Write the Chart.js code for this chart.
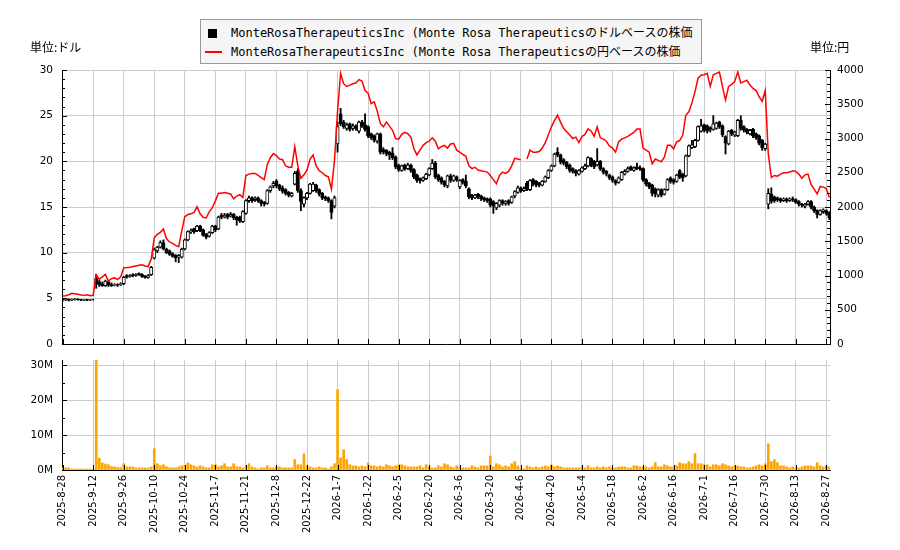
<!DOCTYPE html>
<html>
<head>
<meta charset="utf-8">
<script src="https://cdn.jsdelivr.net/npm/chart.js@4.4.0/dist/chart.umd.min.js"></script>
<style>
    body { margin: 0; background: #fff; }
    #wrap { position: relative; width: 900px; height: 550px; overflow: hidden; }
    #priceChart { position: absolute; left: 0; top: 0; }
    #volumeChart { position: absolute; left: 0; top: 350px; }
    .unit { position: absolute; top: 40px; font: 12px "Noto Sans CJK JP", sans-serif; line-height: 14px; color: #000; }
    #legend { position: absolute; left: 200px; top: 19px; width: 502px; height: 45px; box-sizing: border-box;
              border: 1px solid #999; background: #f5f5f5; }
    .legend-text { position: absolute; left: 231px; font: 12px "DejaVu Sans Mono", "Noto Sans CJK JP", monospace;
                   line-height: 14px; color: #000; white-space: nowrap; }
</style>
</head>
<body>
<div id="wrap">
    <canvas id="priceChart" width="900" height="350" style="width:900px;height:350px"></canvas>
    <canvas id="volumeChart" width="900" height="200" style="width:900px;height:200px"></canvas>
    <div class="unit" style="left:30px">単位:ドル</div>
    <div class="unit" style="left:810px">単位:円</div>
    <div id="legend"></div>
    <div style="position:absolute;left:208px;top:29px;width:9px;height:9px;background:#000"></div>
    <div class="legend-text" style="top:26px">MonteRosaTherapeuticsInc (Monte Rosa Therapeuticsのドルベースの株価</div>
    <div style="position:absolute;left:205px;top:51px;width:17px;height:2px;background:#f00"></div>
    <div class="legend-text" style="top:45px">MonteRosaTherapeuticsInc (Monte Rosa Therapeuticsの円ベースの株価</div>
</div>
<script>
// trading-day tick labels, one every 10 sessions
const tickLabels = ['2025-8-28', '2025-9-12', '2025-9-26', '2025-10-10', '2025-10-24', '2025-11-7', '2025-11-21',
    '2025-12-8', '2025-12-22', '2026-1-7', '2026-1-22', '2026-2-5', '2026-2-20', '2026-3-6', '2026-3-20',
    '2026-4-6', '2026-4-20', '2026-5-4', '2026-5-18', '2026-6-2', '2026-6-16', '2026-7-1', '2026-7-16',
    '2026-7-30', '2026-8-13', '2026-8-27'];

// daily prices in dollars
const opens = [
    4.9,4.85,4.9,4.8,4.85,4.9,4.85,4.8,4.85,4.8,
    4.85,7.2,6.8,6.6,6.4,6.8,6.5,6.45,6.5,6.5,
    6.6,7.5,7.4,7.6,7.5,7.7,7.6,7.45,7.3,7.6,
    9.4,10.2,10.6,11.1,10.4,10.2,9.9,9.7,9.5,9.5,
    10.4,11.4,12.3,12.6,12.4,12.9,12.5,12.0,11.8,12.2,
    12.9,12.6,14.1,13.9,14.2,14.0,14.2,13.9,13.9,13.4,
    14.3,15.7,16.0,15.8,16.0,15.7,15.5,15.4,16.8,17.3,
    17.8,17.4,17.1,16.9,16.6,16.2,17.5,18.9,16.8,15.3,
    16.0,16.5,16.8,17.4,16.9,16.5,16.1,16.0,15.7,15.1,
    21.9,25.2,24.3,23.6,24.1,23.6,23.9,23.3,24.3,24.0,
    23.8,23.0,22.8,22.2,23.0,21.3,21.2,21.0,20.9,20.5,
    19.6,19.0,19.6,19.2,19.6,19.1,18.5,18.1,17.9,18.1,
    18.5,19.2,19.8,18.5,18.2,17.8,17.3,18.4,17.9,18.3,
    17.2,18.0,17.8,17.0,16.3,16.0,16.4,16.2,16.0,15.9,
    15.9,15.6,14.9,15.2,15.7,15.4,15.7,15.5,16.2,16.6,
    17.1,16.8,17.6,16.9,18.0,17.8,17.6,17.4,17.8,18.2,
    19.0,19.5,21.0,20.7,20.2,19.9,19.6,19.2,19.0,18.6,
    18.9,19.2,19.5,20.3,20.0,19.6,20.0,19.2,18.9,18.5,
    18.3,17.9,17.7,18.0,18.6,18.9,19.4,19.0,19.4,19.3,
    19.2,18.0,17.6,17.4,17.0,16.3,16.9,16.4,16.9,18.2,
    18.0,17.8,19.0,18.6,18.4,20.6,21.5,21.6,22.3,23.3,
    24.0,23.9,23.7,23.5,23.6,24.3,23.9,22.7,21.9,23.4,
    22.9,22.8,24.5,23.8,23.5,23.0,23.5,23.0,22.8,22.3,
    21.4,15.3,16.4,16.1,16.0,15.9,15.7,15.9,15.7,15.9,
    15.8,15.6,15.3,15.1,15.3,15.6,15.0,14.6,14.2,14.5,
    14.6,14.4
];
const highs = [
    5.0,5.0,4.95,4.95,5.0,4.95,4.9,4.9,4.9,4.9,
    4.9,7.6,7.0,6.8,7.0,6.9,6.7,6.6,6.6,6.7,
    7.4,7.6,7.6,7.7,7.7,7.8,7.7,7.5,7.6,8.5,
    10.5,10.7,11.3,11.4,10.5,10.3,10.0,9.8,9.8,10.5,
    11.5,12.4,12.6,12.7,13.0,13.0,12.6,12.1,12.3,13.0,
    13.0,14.0,14.3,14.3,14.3,14.4,14.3,14.0,14.0,14.6,
    15.8,16.2,16.1,16.1,16.1,15.8,15.6,16.9,17.3,17.8,
    18.0,17.5,17.3,17.0,16.7,16.6,18.9,19.2,17.0,16.1,
    16.6,17.6,17.7,17.5,17.0,16.6,16.2,16.1,15.8,16.2,
    24.3,25.8,24.5,24.2,24.2,24.1,24.0,24.4,24.5,25.2,
    23.9,23.1,22.9,23.1,23.1,21.5,21.3,21.1,21.5,20.6,
    19.7,19.6,19.7,19.8,19.7,19.2,18.6,18.2,18.3,18.7,
    19.3,20.2,20.0,18.6,18.3,17.9,18.5,18.6,18.5,18.4,
    18.0,18.1,18.5,17.1,16.4,16.4,16.5,16.3,16.1,16.0,
    16.0,15.7,15.5,15.8,15.8,15.7,15.8,16.2,16.8,17.3,
    17.2,17.2,17.8,18.0,18.1,17.9,17.7,17.9,18.4,19.1,
    19.6,20.9,21.5,20.8,20.3,20.0,19.7,19.3,19.1,19.1,
    19.4,19.7,20.5,20.4,20.1,21.4,20.1,19.3,19.0,18.6,
    18.4,18.0,18.3,18.9,19.1,19.4,19.5,19.4,19.8,19.5,
    19.3,18.1,17.7,17.5,17.1,17.0,17.0,17.0,18.1,18.3,
    18.1,18.6,19.1,18.7,20.7,21.8,22.3,22.4,23.9,24.6,
    24.1,24.0,23.8,25.0,24.3,24.4,24.0,22.8,23.4,23.5,
    23.3,24.6,25.0,23.9,23.6,23.5,23.6,23.1,22.9,22.4,
    22.0,17.0,17.1,16.2,16.1,16.0,16.0,16.0,16.0,16.1,
    15.9,15.7,15.4,15.4,15.7,15.7,15.1,14.7,14.7,14.8,
    14.7,14.5
];
const lows = [
    4.7,4.75,4.7,4.75,4.8,4.8,4.75,4.75,4.75,4.75,
    4.8,6.1,6.3,6.3,6.3,6.3,6.3,6.35,6.3,6.4,
    6.5,7.2,7.3,7.35,7.4,7.5,7.3,7.2,7.2,7.5,
    9.3,10.0,10.5,10.3,9.9,9.7,9.5,9.0,8.9,9.4,
    10.3,11.3,12.1,12.1,12.3,12.3,11.8,11.5,11.7,12.1,
    12.3,12.5,13.7,13.8,13.7,13.9,13.6,13.0,13.3,13.3,
    14.2,15.5,15.5,15.6,15.5,15.1,15.1,15.3,16.6,17.1,
    17.1,16.8,16.5,16.3,16.1,16.1,17.4,16.6,14.6,15.0,
    15.8,16.4,16.7,16.6,16.2,15.8,15.7,15.5,13.7,14.9,
    21.0,23.9,23.6,23.4,23.3,23.4,23.4,23.1,23.7,23.3,
    22.6,22.4,22.1,22.0,20.8,20.8,20.6,20.2,20.2,19.2,
    18.9,18.9,19.0,19.1,18.8,18.1,17.7,17.6,17.8,18.0,
    18.4,19.1,18.1,17.8,17.5,17.2,17.1,17.7,17.8,17.8,
    17.0,17.5,17.1,15.9,15.8,15.9,15.9,15.7,15.6,15.5,
    15.0,14.3,14.7,15.0,15.2,15.2,15.2,15.4,16.0,16.5,
    16.6,16.7,16.8,16.8,17.3,17.2,17.2,17.3,17.7,18.1,
    18.9,19.4,20.5,19.7,19.6,19.2,18.8,18.7,18.4,18.5,
    18.8,19.1,19.4,19.4,19.2,19.5,19.0,18.6,18.4,18.0,
    17.7,17.4,17.6,17.9,18.5,18.8,19.0,18.9,19.1,19.0,
    17.8,17.3,17.0,16.2,16.1,16.1,16.1,16.3,16.8,17.6,
    17.5,17.7,18.1,17.8,18.3,20.5,21.4,21.5,22.2,23.2,
    23.2,23.1,23.2,23.4,23.5,23.6,22.7,20.8,21.8,22.8,
    22.7,22.7,23.4,23.2,23.0,22.9,22.6,22.4,21.8,21.2,
    21.2,14.8,15.4,15.5,15.6,15.5,15.6,15.5,15.6,15.6,
    15.4,15.1,15.0,14.9,15.2,14.8,14.4,13.8,14.1,14.3,
    14.1,13.6
];
const closes = [
    4.85,4.9,4.8,4.85,4.9,4.85,4.8,4.85,4.8,4.85,
    4.85,6.6,6.5,6.4,6.9,6.5,6.4,6.5,6.45,6.6,
    7.3,7.35,7.5,7.45,7.6,7.6,7.4,7.3,7.5,8.4,
    10.3,10.6,11.1,10.4,10.0,9.8,9.6,9.45,9.7,10.4,
    11.4,12.3,12.4,12.3,12.9,12.4,11.9,11.7,12.2,12.9,
    12.5,13.9,13.9,14.1,13.9,14.2,13.8,13.6,13.5,14.5,
    15.7,16.0,15.7,16.0,15.7,15.4,15.3,16.8,17.2,17.6,
    17.3,17.0,16.7,16.5,16.3,16.5,18.7,16.8,15.6,16.0,
    16.5,17.5,17.5,16.8,16.4,16.0,15.9,15.7,14.4,16.0,
    23.8,24.1,23.8,24.0,23.5,23.9,23.6,24.3,23.9,23.5,
    22.8,22.6,22.3,23.0,21.0,21.0,20.8,20.7,20.4,19.4,
    19.1,19.5,19.2,19.6,19.0,18.3,17.9,17.9,18.2,18.6,
    19.2,19.8,18.3,18.0,17.7,17.4,18.4,17.9,18.4,18.0,
    17.9,17.7,17.3,16.1,16.0,16.3,16.1,15.9,15.8,15.7,
    15.2,15.1,15.4,15.7,15.4,15.6,15.4,16.1,16.7,17.1,
    16.8,17.0,17.0,17.9,17.5,17.4,17.4,17.8,18.3,19.0,
    19.5,20.8,20.7,19.9,19.8,19.4,19.0,18.9,18.7,19.0,
    19.3,19.5,20.4,19.6,19.4,20.0,19.2,18.8,18.6,18.2,
    17.9,17.6,18.2,18.8,18.9,19.2,19.1,19.3,19.2,19.2,
    18.0,17.5,17.2,16.5,16.4,16.9,16.3,16.9,18.0,17.8,
    17.7,18.5,18.3,18.2,20.6,21.7,21.8,22.3,23.8,23.9,
    23.4,23.3,23.5,24.1,24.2,23.8,22.9,22.0,23.3,23.0,
    23.2,24.5,23.6,23.4,23.2,23.4,22.8,22.6,22.0,21.5,
    21.9,16.5,15.6,15.7,15.8,15.7,15.9,15.7,15.9,15.8,
    15.5,15.3,15.2,15.3,15.6,15.0,14.6,14.2,14.6,14.7,
    14.3,13.8
];

// yen-based price (one missing session)
const yenPrices = [
    700,705,720,740,735,725,715,710,720,705,
    710,1010,945,980,1015,920,955,965,940,980,
    1110,1115,1120,1130,1140,1150,1155,1140,1130,1240,
    1550,1600,1630,1680,1540,1490,1470,1440,1420,1650,
    1860,1890,1900,1920,2005,1900,1850,1840,1930,1990,
    2090,2200,2200,2210,2200,2190,2120,2160,2180,2140,
    2460,2480,2490,2490,2460,2430,2400,2620,2720,2780,
    2750,2700,2690,2600,2580,2580,2880,2600,2420,2470,
    2540,2700,2760,2600,2530,2500,2460,2440,2260,2680,
    3400,3950,3800,3760,3780,3800,3810,3860,3840,3700,
    3660,3510,3535,3400,3220,3170,3240,3180,3120,3000,
    2990,3060,3090,3070,3020,2850,2760,2830,2900,2940,
    2960,3010,2960,2850,2880,2900,2860,2920,2930,2830,
    2800,2770,2740,2600,2560,2580,2540,2530,2520,2510,
    2460,2400,2340,2460,2510,2490,2520,2600,2710,2700,
    2690,null,2700,2830,2800,2800,2810,2860,2940,3050,
    3170,3260,3340,3240,3150,3100,3050,3000,3020,2940,
    3030,3060,3140,3110,3030,3170,3010,2990,2960,2890,
    2860,2800,2950,2990,3010,3030,3060,3090,3140,3140,
    2860,2830,2800,2630,2700,2680,2660,2730,2900,2900,
    2850,2950,2970,3050,3340,3390,3520,3680,3880,3925,
    3930,3950,3760,3930,3950,3970,3760,3560,3760,3790,
    3830,3970,3810,3830,3850,3780,3730,3700,3610,3540,
    3700,2775,2430,2460,2450,2480,2500,2500,2510,2530,
    2520,2480,2420,2470,2480,2330,2260,2190,2300,2290,
    2270,2140
];

// volume, millions of shares
const volumes = [
    0.6,0.6,0.6,0.3,0.3,0.3,0.3,0.3,0.3,0.3,
    0.3,35,3.4,2.0,1.7,1.5,1.0,0.9,0.7,0.7,
    1.8,0.9,0.9,0.9,0.6,0.6,0.6,0.6,0.6,0.9,
    6.1,1.8,1.2,1.5,0.9,0.6,0.6,0.6,0.9,1.2,
    1.2,2.0,1.5,1.2,0.9,1.2,0.9,0.6,0.6,1.5,
    1.5,0.9,1.2,1.8,0.9,0.9,1.8,0.9,0.9,0.6,
    0.9,1.8,0.9,0.6,0.3,0.6,0.6,1.2,0.6,0.6,
    0.9,0.9,0.6,0.6,0.6,0.6,3.0,1.5,1.5,4.6,
    1.2,0.9,0.6,0.6,0.9,0.6,0.6,0.3,0.9,1.8,
    23,3.5,5.8,3.0,1.5,1.2,1.2,0.9,1.2,0.9,
    2.0,1.2,1.2,0.9,1.2,0.9,1.5,1.2,0.9,1.2,
    1.5,1.5,1.2,0.9,0.9,0.9,0.9,1.2,0.6,1.5,
    0.9,0.6,0.6,1.2,0.9,1.8,1.5,0.9,0.6,1.2,
    0.9,0.6,0.6,0.6,1.2,0.9,0.6,1.2,1.2,1.2,
    4.0,0.9,1.8,1.5,0.9,1.2,0.9,1.8,2.4,1.2,
    0.6,0.3,1.2,0.9,0.6,0.9,0.6,0.9,1.2,0.9,
    1.5,0.9,1.2,0.9,0.6,0.6,0.6,0.6,0.6,0.6,
    0.9,0.6,1.2,0.6,0.6,0.9,0.6,0.9,0.6,0.9,
    0.6,0.6,0.9,0.9,0.9,0.6,0.6,1.2,1.2,0.9,
    0.9,0.9,0.6,0.9,2.1,0.9,0.9,1.5,1.2,0.9,
    0.9,1.2,2.1,1.8,1.8,2.4,1.8,4.7,1.8,1.8,
    1.5,1.5,0.9,1.5,1.5,1.2,1.8,1.5,1.2,0.9,
    1.2,1.2,0.9,0.9,0.6,0.6,0.9,1.2,1.5,1.2,
    1.8,7.5,2.4,3.0,2.1,1.2,1.2,0.9,0.6,0.9,
    0.6,0.6,0.9,1.2,1.2,1.2,0.9,2.1,1.2,0.9,
    1.2,0.9
];

const GRID = '#cccccc';
const X_MIN = -0.2, X_MAX = 251.2;
const xTickValues = tickLabels.map((_, k) => k * 10);

Chart.defaults.font.family = '"DejaVu Sans", sans-serif';
Chart.defaults.font.size = 10;
Chart.defaults.color = '#000';

// matplotlib style ticks pointing into the plot
function drawInnerTicks(chart, marks) {
    const ctx = chart.ctx;
    const a = chart.chartArea;
    ctx.save();
    ctx.strokeStyle = '#000';
    ctx.lineWidth = 1;
    ctx.beginPath();
    marks.forEach(m => {
        const s = chart.scales[m.axis];
        for (let k = 0; m.from + k * m.step <= m.to + 1e-9; k++) {
            const len = (k % m.every === 0) ? 5 : 3;
            const p = Math.round(s.getPixelForValue(m.from + k * m.step)) + 0.5;
            if (m.side === 'left') { ctx.moveTo(a.left, p); ctx.lineTo(a.left + len, p); }
            else if (m.side === 'right') { ctx.moveTo(a.right, p); ctx.lineTo(a.right - len, p); }
            else { ctx.moveTo(p, a.bottom); ctx.lineTo(p, a.bottom - len); }
        }
    });
    ctx.stroke();
    ctx.restore();
}

// fixed axis size, and no label overflow padding pushed into the layout
function fixWidth(w) {
    return s => { s.width = w; s.paddingTop = 0; s.paddingBottom = 0; };
}

function xScale(showLabels, height) {
    return {
        type: 'linear',
        min: X_MIN,
        max: X_MAX,
        offset: false,
        afterBuildTicks: s => { s.ticks = xTickValues.map(v => ({value: v})); },
        afterFit: s => { s.height = height; },
        grid: {color: GRID, drawTicks: false, offset: false},
        border: {color: '#000'},
        ticks: {
            display: showLabels,
            autoSkip: false,
            minRotation: 90,
            maxRotation: 90,
            padding: 5,
            font: {size: 10},
            callback: v => tickLabels[Math.round(v / 10)]
        }
    };
}

const bodyColors = closes.map((c, i) => c >= opens[i] ? '#ffffff' : '#000000');

new Chart(document.getElementById('priceChart'), {
    type: 'bar',
    data: {
        datasets: [
            {
                type: 'line',
                label: 'yen',
                yAxisID: 'yYen',
                data: yenPrices.map((v, i) => ({x: i, y: v})),
                borderColor: '#ff0000',
                borderWidth: 1.5,
                pointRadius: 0,
                spanGaps: false,
                order: 0
            },
            {
                label: 'body',
                yAxisID: 'y',
                data: opens.map((o, i) => ({x: i, y: [o, closes[i]]})),
                backgroundColor: bodyColors,
                borderColor: '#000',
                borderWidth: 1,
                borderSkipped: false,
                barThickness: 3.3,
                grouped: false,
                order: 1
            },
            {
                label: 'wick',
                yAxisID: 'y',
                data: lows.map((l, i) => ({x: i, y: [l, highs[i]]})),
                backgroundColor: '#000',
                barThickness: 1.2,
                grouped: false,
                order: 2
            }
        ]
    },
    options: {
        responsive: false,
        animation: false,
        layout: {padding: {top: 70, left: 0, right: 0, bottom: 0}},
        plugins: {legend: {display: false}, tooltip: {enabled: false}},
        scales: {
            x: xScale(false, 6),
            y: {
                position: 'left',
                min: 0,
                max: 30,
                afterFit: fixWidth(62),
                grid: {color: GRID, drawTicks: false},
                border: {color: '#000'},
                ticks: {stepSize: 5, padding: 9, font: {size: 10.5}}
            },
            yYen: {
                position: 'right',
                min: 0,
                max: 4000,
                afterFit: fixWidth(70),
                grid: {drawOnChartArea: false, drawTicks: false},
                border: {color: '#000'},
                ticks: {stepSize: 500, padding: 7, font: {size: 10.5}, callback: v => String(v)}
            }
        }
    },
    plugins: [{
        id: 'priceTicks',
        afterDraw: chart => drawInnerTicks(chart, [
            {axis: 'y', side: 'left', from: 0, to: 30, step: 1, every: 5},
            {axis: 'yYen', side: 'right', from: 0, to: 4000, step: 100, every: 5},
            {axis: 'x', side: 'bottom', from: 0, to: 250, step: 10, every: 1}
        ])
    }]
});

new Chart(document.getElementById('volumeChart'), {
    type: 'bar',
    data: {
        datasets: [{
            label: 'volume',
            data: volumes.map((v, i) => ({x: i, y: v})),
            backgroundColor: '#ffa500',
            barThickness: 2
        }]
    },
    options: {
        responsive: false,
        animation: false,
        layout: {padding: {top: 10, left: 0, right: 70, bottom: 0}},
        plugins: {legend: {display: false}, tooltip: {enabled: false}},
        scales: {
            x: xScale(true, 80),
            y: {
                position: 'left',
                min: 0,
                max: 31.5,
                afterBuildTicks: s => { s.ticks = [0, 10, 20, 30].map(v => ({value: v})); },
                afterFit: fixWidth(62),
                grid: {color: GRID, drawTicks: false},
                border: {color: '#000'},
                ticks: {padding: 9, font: {size: 10.5}, callback: v => v + 'M'}
            }
        }
    },
    plugins: [{
        id: 'volumeTicks',
        afterDraw: chart => drawInnerTicks(chart, [
            {axis: 'y', side: 'left', from: 0, to: 30, step: 5, every: 2},
            {axis: 'x', side: 'bottom', from: 0, to: 250, step: 10, every: 1}
        ])
    }]
});
</script>
</body>
</html>
